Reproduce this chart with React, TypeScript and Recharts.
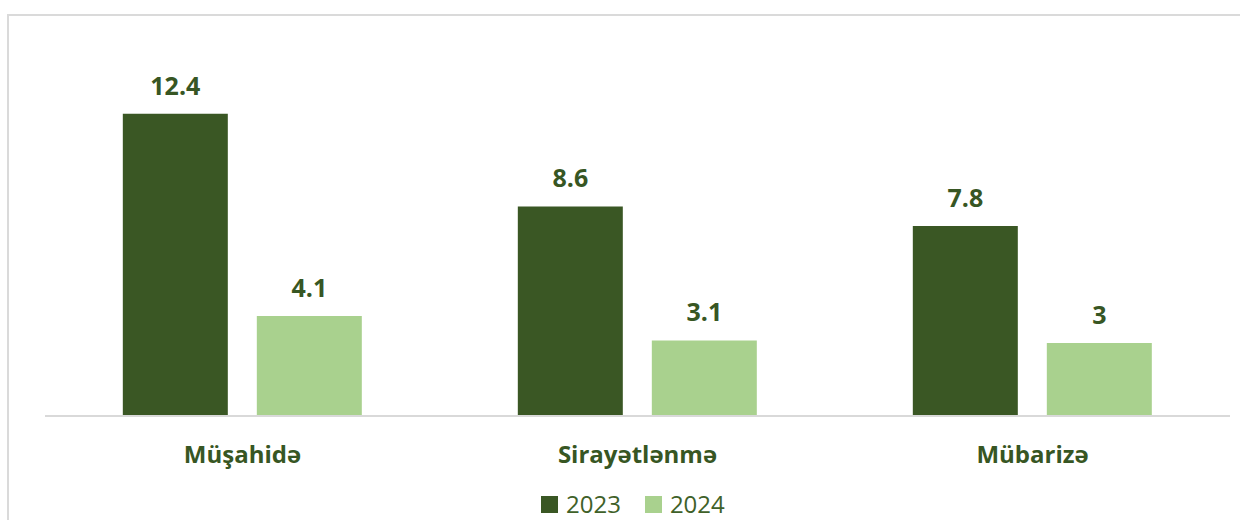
import React from "react";
import { BarChart, Bar, XAxis, YAxis, LabelList, Legend } from "recharts";

const categories = ["Müşahidə", "Sirayətlənmə", "Mübarizə"];
const series2023 = [12.4, 8.6, 7.8];
const series2024 = [4.1, 3.1, 3];
const seriesNames = ["2023", "2024"];

const DARK = "#3a5724";
const LIGHT = "#a9d18e";
const TEXT = "#375623";
const FONT = "'Open Sans', 'Noto Sans', sans-serif";

const data = categories.map((c, i) => ({
  name: c,
  y2023: series2023[i],
  y2024: series2024[i],
}));

const CategoryTick = (props: any) => {
  const { x, y, payload } = props;
  return (
    <text
      x={x}
      y={y}
      dy={47}
      textAnchor="middle"
      fill={TEXT}
      fontFamily={FONT}
      fontWeight={700}
      fontSize={24}
    >
      {payload.value}
    </text>
  );
};

const LegendContent = () => (
  <div style={{ display: "flex", alignItems: "center", fontFamily: FONT, height: 26 }}>
    {seriesNames.map((n, i) => (
      <div
        key={n}
        style={{ display: "flex", alignItems: "center", marginRight: i === 0 ? 24 : 0 }}
      >
        <div
          style={{
            width: 17,
            height: 17,
            background: i === 0 ? DARK : LIGHT,
            marginRight: 8,
          }}
        />
        <span style={{ fontSize: 24, color: "#3f6129", lineHeight: "26px" }}>{n}</span>
      </div>
    ))}
  </div>
);

export default function App() {
  return (
    <div
      style={{
        position: "absolute",
        left: 0,
        top: 0,
        width: 1240,
        height: 520,
        overflow: "hidden",
        background: "#fff",
        fontFamily: FONT,
      }}
    >
      <div
        style={{
          position: "absolute",
          left: 7,
          top: 14,
          width: 1300,
          height: 600,
          borderTop: "2px solid #dadada",
          borderLeft: "2px solid #dadada",
          boxSizing: "border-box",
        }}
      />
      <div style={{ position: "absolute", left: 0, top: 0 }}>
        <BarChart
          width={1240}
          height={520}
          data={data}
          margin={{ top: 26, right: 10, left: 45, bottom: 0 }}
          barCategoryGap="19.7%"
          barGap={29}
        >
          <XAxis
            dataKey="name"
            height={104}
            tickLine={false}
            tickSize={0}
            tickMargin={0}
            axisLine={{ stroke: "#d9d9d9", strokeWidth: 2 }}
            tick={<CategoryTick />}
            interval={0}
          />
          <YAxis hide domain={[0, 16]} width={0} />
          <Legend
            verticalAlign="middle"
            align="center"
            layout="horizontal"
            wrapperStyle={{ top: 491, left: 541, width: 300, height: 26 }}
            content={<LegendContent />}
          />
          <Bar dataKey="y2023" name={seriesNames[0]} fill={DARK} isAnimationActive={false}>
            <LabelList
              dataKey="y2023"
              position="top"
              offset={19}
              fill={TEXT}
              fontFamily={FONT}
              fontWeight={700}
              fontSize={25}
            />
          </Bar>
          <Bar dataKey="y2024" name={seriesNames[1]} fill={LIGHT} isAnimationActive={false}>
            <LabelList
              dataKey="y2024"
              position="top"
              offset={19}
              fill={TEXT}
              fontFamily={FONT}
              fontWeight={700}
              fontSize={25}
            />
          </Bar>
        </BarChart>
      </div>
    </div>
  );
}
